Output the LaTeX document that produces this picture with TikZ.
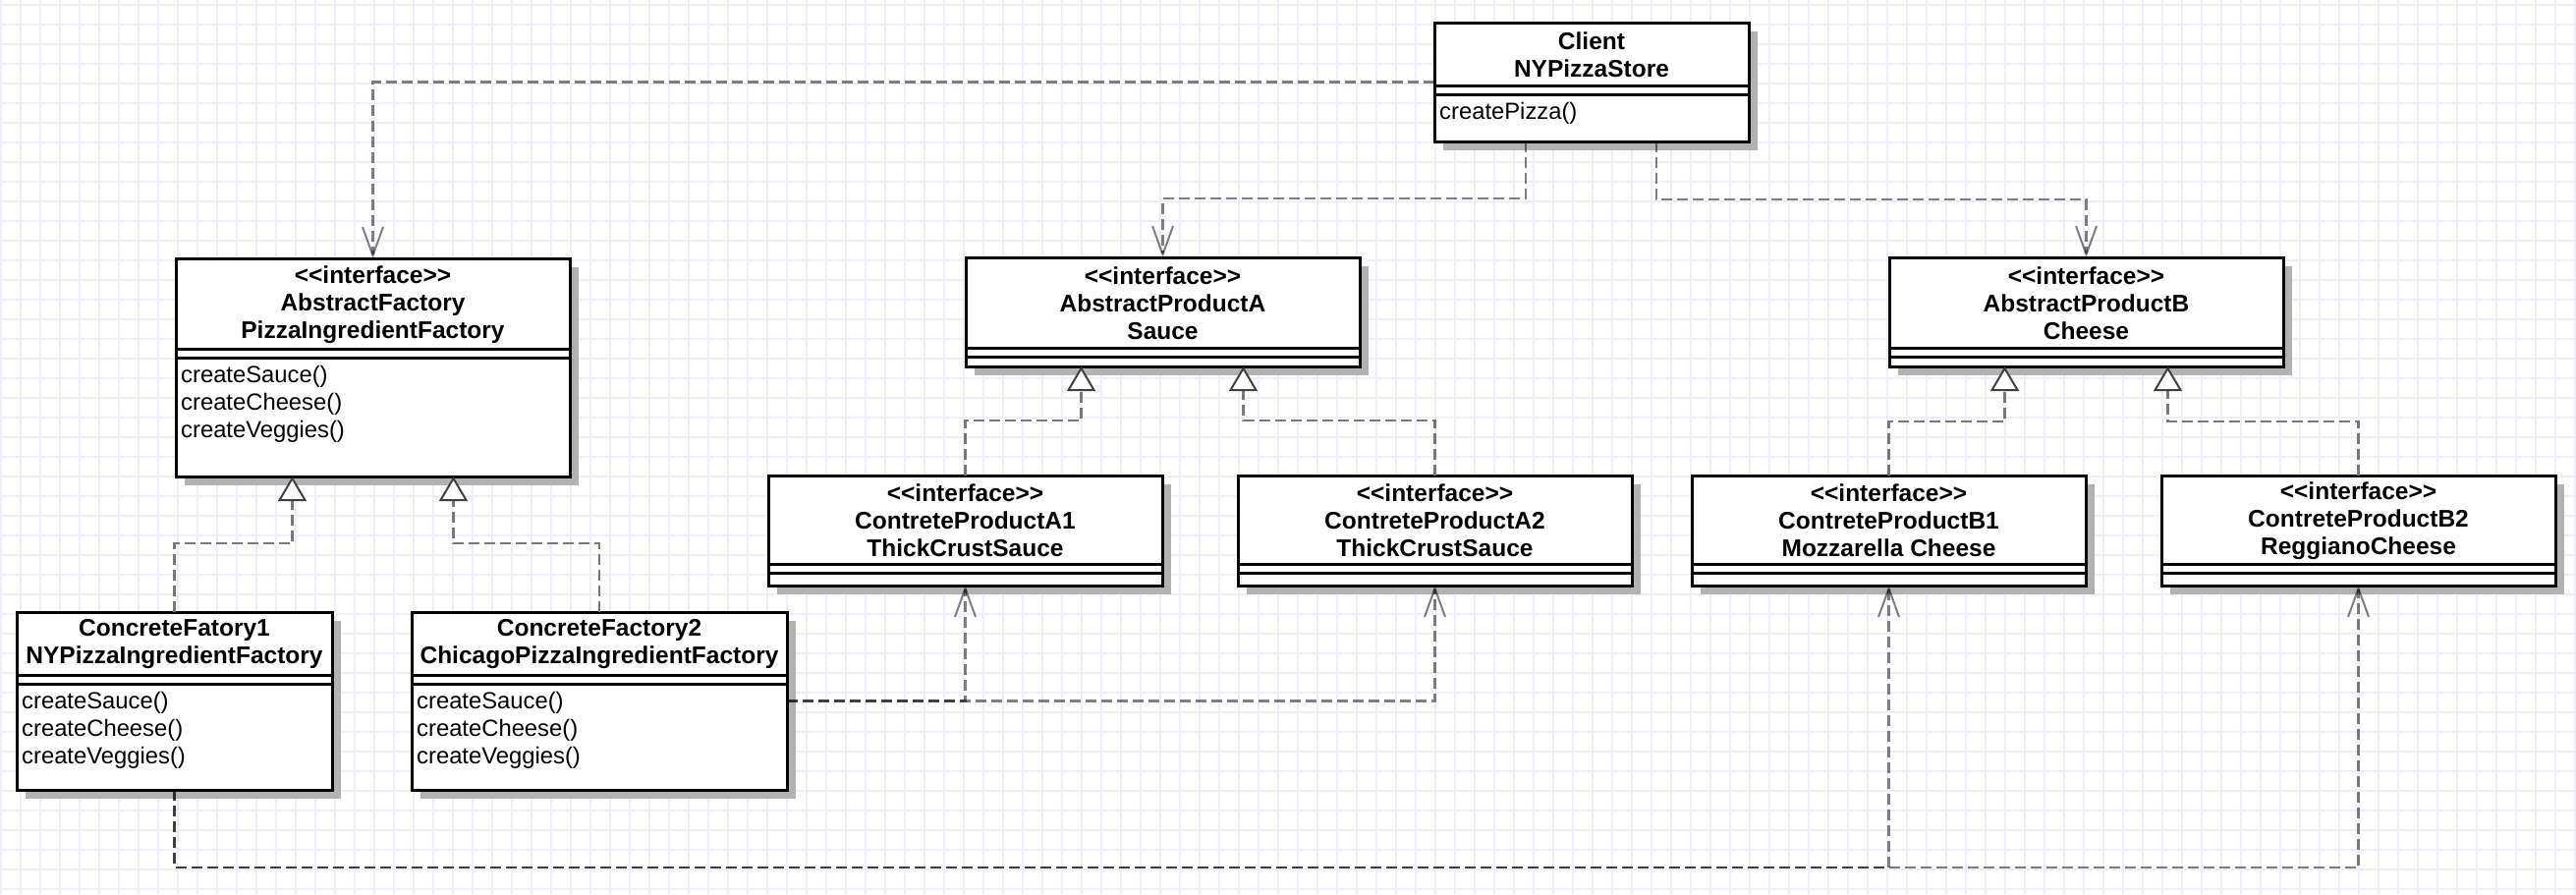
\documentclass[tikz,border=0pt]{standalone}
\usepackage{fontspec}
\setmainfont{Liberation Sans}
\usetikzlibrary{arrows.meta}
\definecolor{gridc}{RGB}{238,238,251}
\definecolor{shadowc}{RGB}{178,178,178}
\definecolor{linec}{RGB}{120,120,120}
\definecolor{tipc}{RGB}{64,64,64}
\tikzset{
 classbox/.style={draw=black, fill=white, line width=3pt, inner sep=0pt, outer sep=0pt, rectangle},
 sepline/.style={draw=black, line width=3pt},
 titletext/.style={font=\bfseries\fontsize{24.5}{28}\selectfont, align=center, inner sep=0pt},
 optext/.style={font=\fontsize{23.8}{28}\selectfont, inner sep=0pt, anchor=base west},
 gridline/.style={draw=gridc, line width=2pt},
 dep/.style={draw=black, draw opacity=0.5, line width=2.6pt, dash pattern=on 11pt off 5pt,
   -{Straight Barb[length=29pt, width=21pt, line width=2pt]}},
 real/.style={draw=linec, line width=2.6pt, dash pattern=on 11pt off 5pt,
   -{Triangle[length=25pt, width=29pt, line width=2pt, color=tipc, fill=white]}},
}
\newcommand\umlclass[7]{%
 \fill[shadowc] ({#2+9},{#3+9}) rectangle ({#4+9},{#5+9});
 \node[classbox, minimum width={(#4-#2)*1pt}, minimum height={(#5-#3)*1pt}] (#1) at ({(#2+#4)/2},{(#3+#5)/2}) {};
 \draw[sepline] (#2,#6) -- (#4,#6);
 \draw[sepline] (#2,{#6+9}) -- (#4,{#6+9});
 \node[titletext] (#1-title) at ({(#2+#4)/2},{(#3+#6)/2+1}) {#7};
}
\newcommand\umlops[4]{%
 \foreach \m [count=\i] in {#4} {\node[optext] (#1-op\i) at ({#2+5},{#3+34+(\i-1)*28}) {\m};}
}
\newcommand\stereo{{<}{<}interface{>}{>}}
\begin{document}
\begin{tikzpicture}[x=1pt, y=-1pt]
\useasboundingbox (0,0) rectangle (2622,910);
\fill[white] (0,0) rectangle (2622,910);
\foreach \gx in {1,21,...,2621} \draw[gridline] (\gx,0) -- (\gx,910);
\foreach \gy in {5,25,...,905} \draw[gridline] (0,\gy) -- (2622,\gy);

% classes
\umlclass{client}{1460}{23}{1780}{144}{87}{Client\\NYPizzaStore}
\umlops{client}{1460}{87}{createPizza()}
\umlclass{af}{179}{263}{580}{485}{355}{\stereo\\AbstractFactory\\PizzaIngredientFactory}
\umlops{af}{179}{355}{createSauce(),createCheese(),createVeggies()}
\umlclass{cfa}{17}{623}{338}{804}{687}{ConcreteFatory1\\NYPizzaIngredientFactory}
\umlops{cfa}{17}{687}{createSauce(),createCheese(),createVeggies()}
\umlclass{cfb}{419}{623}{801}{804}{687}{ConcreteFactory2\\ChicagoPizzaIngredientFactory}
\umlops{cfb}{419}{687}{createSauce(),createCheese(),createVeggies()}
\umlclass{apa}{983}{262}{1384}{373}{354}{\stereo\\AbstractProductA\\Sauce}
\umlclass{apb}{1923}{262}{2324}{373}{354}{\stereo\\AbstractProductB\\Cheese}
\umlclass{cpaa}{782}{484}{1183}{596}{574}{\stereo\\ContreteProductA1\\ThickCrustSauce}
\umlclass{cpab}{1260}{484}{1661}{596}{574}{\stereo\\ContreteProductA2\\ThickCrustSauce}
\umlclass{cpba}{1722}{484}{2123}{596}{574}{\stereo\\ContreteProductB1\\Mozzarella Cheese}
\umlclass{cpbb}{2200}{484}{2601}{596}{574}{\stereo\\ContreteProductB2\\ReggianoCheese}

% realizations
\draw[real] (cfa.north) -- ++(0,-70) -| ([xshift=-82pt]af.south);
\draw[real] (cfb.north) -- ++(0,-70) -| ([xshift=82pt]af.south);
\draw[real] (cpaa.north) -- ++(0,-56) -| ([xshift=-83pt]apa.south);
\draw[real] (cpab.north) -- ++(0,-56) -| ([xshift=82pt]apa.south);
\draw[real] (cpba.north) -- ++(0,-55) -| ([xshift=-83pt]apb.south);
\draw[real] (cpbb.north) -- ++(0,-55) -| ([xshift=83pt]apb.south);

% dependencies
\draw[dep] (client.west) -| (af.north);
\draw[dep] ([xshift=-67pt]client.south) -- ++(0,58) -| (apa.north);
\draw[dep] ([xshift=66pt]client.south) -- ++(0,59) -| (apb.north);
\draw[dep] (cfb.east) -| (cpaa.south);
\draw[dep] (cfb.east) -| (cpab.south);
\draw[dep] (cfa.south) -- ++(0,79) -| (cpba.south);
\draw[dep] (cfa.south) -- ++(0,79) -| (cpbb.south);
\end{tikzpicture}
\end{document}
